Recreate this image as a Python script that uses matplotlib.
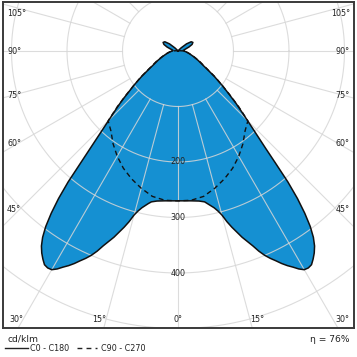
import numpy as np
import matplotlib
matplotlib.use("Agg")
import matplotlib.pyplot as plt

# ---------------- data (cd/klm) ----------------
angles_c0 = [0, 5, 8, 10, 11, 12, 13, 14, 15, 16, 17, 18, 19, 20, 21, 22, 23, 24, 25,
             26, 27, 28, 29, 30, 31, 32, 33, 34, 35, 36, 37, 38, 39, 40, 41, 42, 43,
             44, 45, 46, 47, 48, 49, 50, 52, 55, 58, 60, 65, 70, 75, 80, 85, 90, 95,
             100, 105, 110, 115, 120, 125, 130, 135, 140, 150, 165, 180]
values_c0 = [270, 271, 273, 276, 280, 285, 290, 297, 306, 320, 332, 343, 355, 365, 376,
             389, 400, 409, 417, 426, 434, 441, 449, 455, 456, 454, 447, 439, 429, 415,
             396, 371, 342, 308, 268, 236, 212, 193, 177, 163, 151, 140, 129, 118, 102,
             80, 62, 53, 40, 30, 23, 18, 14, 10, 9, 10, 14, 21, 28, 31, 29, 20, 8, 2,
             0, 0, 0]
angles_c90 = [0, 5, 10, 15, 20, 25, 30, 35, 40, 45, 47.5, 50, 55, 60, 65, 70, 75, 80,
              85, 90, 95, 100, 110, 180]
values_c90 = [270, 270, 266, 256, 245, 233, 219, 204, 188, 178, 148, 120, 82, 55, 42, 31,
              24, 18, 14, 10, 5, 2, 0, 0]
ring_values = [100, 200, 300, 400, 500]
ring_labels = ["200", "300", "400"]
spoke_angles = list(range(-165, 181, 15))
angle_labels = ["105°", "90°", "75°", "60°", "45°", "30°", "15°", "0°"]
legend_labels = ["C0 - C180", "C90 - C270"]
unit_label = "cd/klm"
efficiency_label = "η = 76%"

# ---------------- figure ----------------
W = H = 357
fig = plt.figure(figsize=(W / 100, H / 100), dpi=100)
plt.rcParams['font.family'] = ['DejaVu Sans']

# pixel geometry of the frame and the polar centre
fx0, fx1, fy0, fy1 = 3, 354, 2, 328
cx, cy = 178, 51
scale = 100 / 55.5  # cd/klm per pixel
ax = fig.add_axes([fx0 / W, 1 - fy1 / H, (fx1 - fx0) / W, (fy1 - fy0) / H])
ax.set_xlim((fx0 - cx) * scale, (fx1 - cx) * scale)
ax.set_ylim(-(fy1 - cy) * scale, (cy - fy0) * scale)
ax.set_xticks([]); ax.set_yticks([])
for s in ax.spines.values():
    s.set_linewidth(1.4)
    s.set_color('#3a3a3a')


def full_curve(angles, values):
    a = np.array(angles, dtype=float)
    v = np.array(values, dtype=float)
    # left side (positive angles) and mirrored right side
    a_full = np.concatenate([-a[::-1], a[1:]])
    v_full = np.concatenate([v[::-1], v[1:]])
    th = np.radians(a_full)
    return -v_full * np.sin(th), -v_full * np.cos(th)


xs, ys = full_curve(angles_c0, values_c0)
ax.fill(xs, ys, color='#1590d2', zorder=1, lw=0)

# grid on top of the fill
grid_kw = dict(color='#d6d6d6', lw=0.8, alpha=0.85, zorder=2)
t = np.linspace(0, 2 * np.pi, 400)
for r in ring_values:
    ax.plot(r * np.cos(t), r * np.sin(t), **grid_kw)
for a in spoke_angles:
    th = np.radians(a)
    ax.plot([-100 * np.sin(th), -800 * np.sin(th)],
            [-100 * np.cos(th), -800 * np.cos(th)], **grid_kw)

ax.plot(xs, ys, color='#111111', lw=1.1, zorder=4, solid_joinstyle='round')
xd, yd = full_curve(angles_c90, values_c90)
ax.plot(xd, yd, color='#111111', lw=1.0, ls=(0, (3.5, 2.5)), zorder=5)

for lab in ring_labels:
    ax.text(0, -float(lab), lab, ha='center', va='center', fontsize=5.8,
            color='#222222', zorder=6)

# angle labels around the frame (pixel positions)
fs = 5.8
left_y = [13, 52, 95, 143, 210]
for lab, y in zip(angle_labels[:5], left_y):
    fig.text(7 / W, 1 - y / H, lab, ha='left', va='center', fontsize=fs, color='#222222')
    fig.text(350 / W, 1 - y / H, lab, ha='right', va='center', fontsize=fs, color='#222222')
fig.text(9 / W, 1 - 320 / H, angle_labels[5], ha='left', va='center', fontsize=fs, color='#222222')
fig.text(349 / W, 1 - 320 / H, angle_labels[5], ha='right', va='center', fontsize=fs, color='#222222')
fig.text(99 / W, 1 - 320 / H, angle_labels[6], ha='center', va='center', fontsize=fs, color='#222222')
fig.text(257 / W, 1 - 320 / H, angle_labels[6], ha='center', va='center', fontsize=fs, color='#222222')
fig.text(178 / W, 1 - 320 / H, angle_labels[7], ha='center', va='center', fontsize=fs, color='#222222')

# footer
fig.text(7 / W, 1 - 339.5 / H, unit_label, ha='left', va='center', fontsize=6.6, color='#222222')
fig.text(349 / W, 1 - 339.5 / H, efficiency_label, ha='right', va='center', fontsize=6.6, color='#222222')
fig.add_artist(plt.Line2D([5 / W, 28 / W], [1 - 348 / H] * 2, color='#222222', lw=1.0))
fig.text(30 / W, 1 - 348.5 / H, legend_labels[0], ha='left', va='center', fontsize=5.8, color='#222222')
fig.add_artist(plt.Line2D([77 / W, 97 / W], [1 - 348 / H] * 2, color='#222222', lw=1.0,
                          ls=(0, (3.5, 3))))
fig.text(101 / W, 1 - 348.5 / H, legend_labels[1], ha='left', va='center', fontsize=5.8, color='#222222')

fig.savefig("out.png", dpi=100, facecolor='white')
